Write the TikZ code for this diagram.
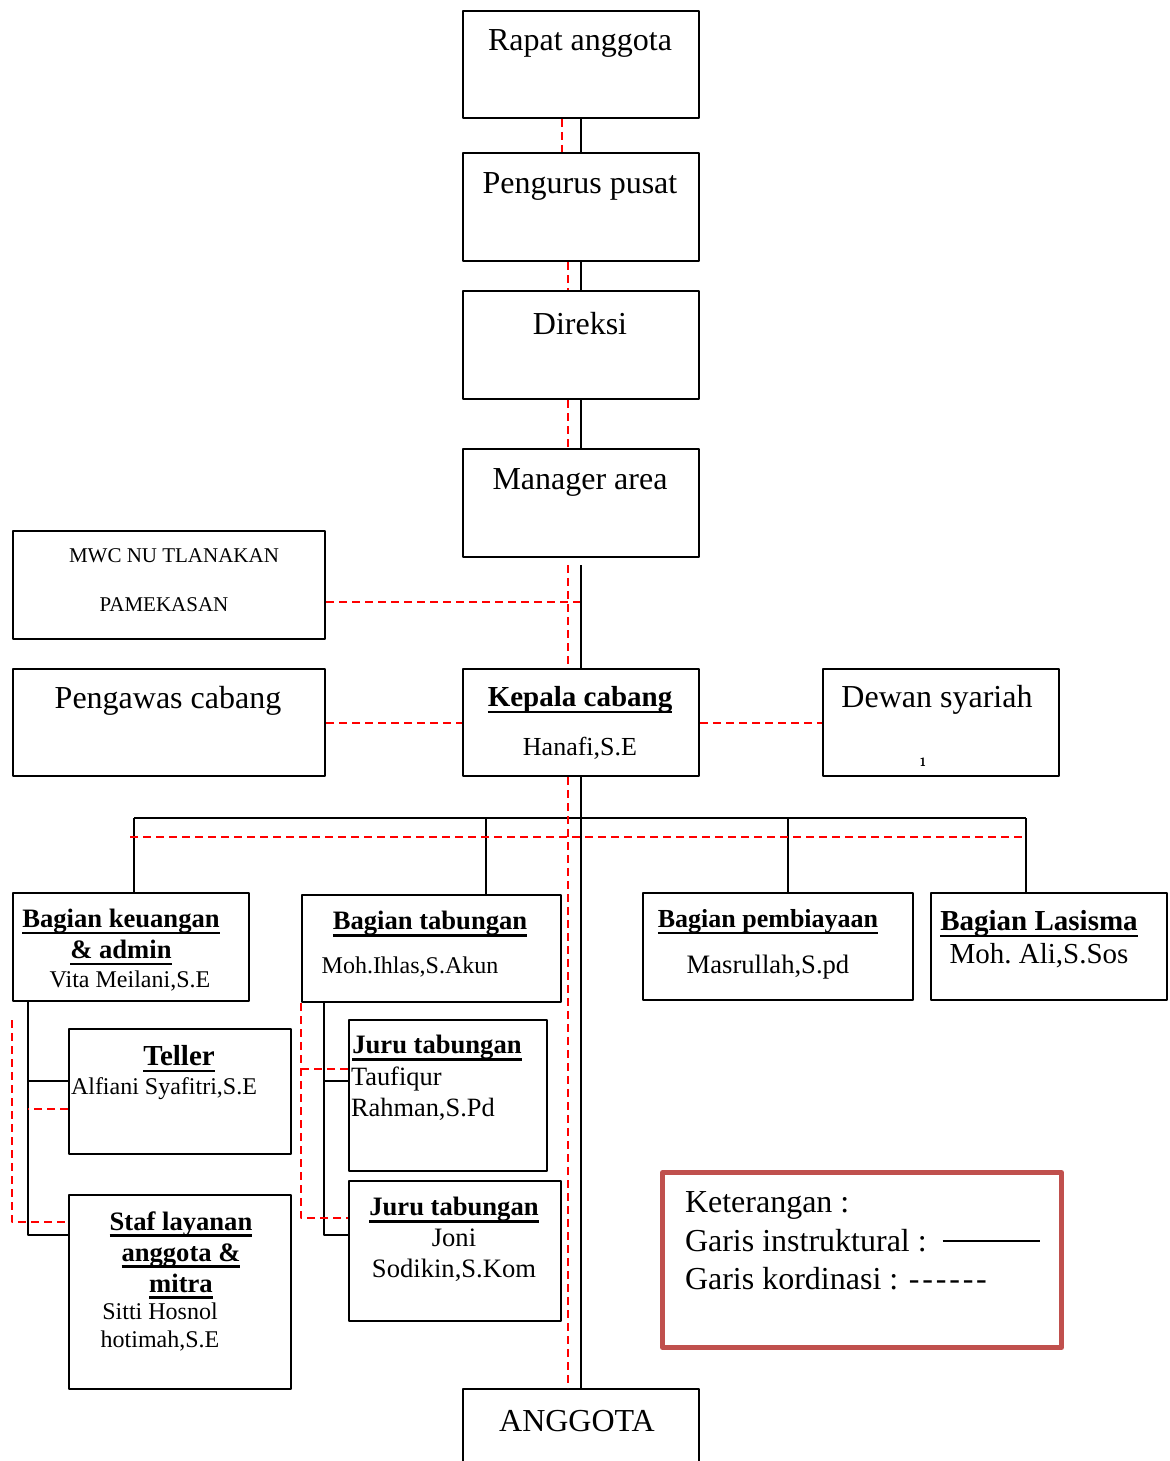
\documentclass[tikz,border=0pt]{standalone}
\usepackage{fontspec}
\setmainfont{Liberation Serif}
\newcommand{\garisbawah}[1]{\setbox0\hbox{#1}\rlap{\vrule width \wd0 height -2.2pt depth 3.3pt}\box0}
\definecolor{merahbata}{HTML}{C0504D}
\begin{document}
\begin{tikzpicture}[x=0.5pt, y=-0.5pt, line width=1pt, line join=round,
	kotak/.style 2 args={draw, anchor=north west, inner sep=0pt, minimum width=#1*0.5pt, minimum height=#2*0.5pt},
	koord/.style={draw=red, dash pattern=on 4pt off 2.5pt},
	teks/.style={inner sep=0pt, yshift=-1.5pt, align=center, font=\fontsize{#1}{15.5}\selectfont}, teks/.default=16,
	judul/.style={inner sep=0pt, yshift=-1.5pt, align=center, font=\fontsize{#1}{15.5}\selectfont\bfseries}, judul/.default=13.3]
	\useasboundingbox (0,0) rectangle (1170,1461);
	% Kotak-kotak struktur
	\node[kotak={236}{107}] (rapat) at (462,10) {};
	\node[kotak={236}{108}] (pengurus) at (462,152) {};
	\node[kotak={236}{108}] (direksi) at (462,290) {};
	\node[kotak={236}{108}] (manager) at (462,448) {};
	\node[kotak={312}{108}] (mwc) at (12,530) {};
	\node[kotak={312}{107}] (pengawas) at (12,668) {};
	\node[kotak={236}{107}] (kepala) at (462,668) {};
	\node[kotak={236}{107}] (dewan) at (822,668) {};
	\node[kotak={236}{108}] (keuangan) at (12,892) {};
	\node[kotak={259}{107}] (tabungan) at (301,894) {};
	\node[kotak={270}{107}] (pembiayaan) at (642,892) {};
	\node[kotak={236}{107}] (lasisma) at (930,892) {};
	\node[kotak={222}{125}] (teller) at (68,1028) {};
	\node[kotak={222}{194}] (staf) at (68,1194) {};
	\node[kotak={198}{151}] (juru1) at (348,1019) {};
	\node[kotak={212}{140}] (juru2) at (348,1180) {};
	\node[kotak={236}{90}] (anggota) at (462,1388) {};
	% Tulisan di dalam kotak
	\node[teks] (rapat-t) at (580,40) {Rapat anggota};
	\node[teks] (pengurus-t) at (580,183) {Pengurus pusat};
	\node[teks] (direksi-t) at (580,321) {Direksi};
	\node[teks] (manager-t) at (580,479) {Manager area};
	\node[teks=10.5] (mwc-a) at (174,553) {MWC NU TLANAKAN};
	\node[teks=10.5] (mwc-b) at (164,602) {PAMEKASAN};
	\node[teks] (pengawas-t) at (168,698) {Pengawas cabang};
	\node[judul=14.5] (kepala-a) at (580,697) {\garisbawah{Kepala cabang}};
	\node[teks=13] (kepala-b) at (580,745) {Hanafi,S.E};
	\node[teks] (dewan-a) at (937,697) {Dewan syariah};
	\node[inner sep=0pt, font=\fontsize{6}{7}\selectfont\sffamily\bfseries] (dewan-b) at (923,762) {1};
	\node[judul] (keuangan-a) at (121,934) {\garisbawah{Bagian keuangan}\\\garisbawah{\& admin}};
	\node[teks=12] (keuangan-b) at (130,978) {Vita Meilani,S.E};
	\node[judul] (tabungan-a) at (430,921) {\garisbawah{Bagian tabungan}};
	\node[teks=12] (tabungan-b) at (410,964) {Moh.Ihlas,S.Akun};
	\node[judul=13] (pembiayaan-a) at (768,919) {\garisbawah{Bagian pembiayaan}};
	\node[teks=13.3] (pembiayaan-b) at (768,964) {Masrullah,S.pd};
	\node[judul=14.5] (lasisma-a) at (1039,921) {\garisbawah{Bagian Lasisma}};
	\node[teks=14.5] (lasisma-b) at (1039,953) {Moh.\ Ali,S.Sos};
	\node[judul=14.5] (teller-a) at (179,1056) {\garisbawah{Teller}};
	\node[teks=12, anchor=west] (teller-b) at (70,1086) {Alfiani Syafitri,S.E};
	\node[judul] (staf-a) at (181,1252) {\garisbawah{Staf layanan}\\\garisbawah{anggota \&}\\\garisbawah{mitra}};
	\node[teks=12] (staf-b) at (160,1324) {Sitti Hosnol\\[-1.5pt]hotimah,S.E};
	\node[judul] (juru1-a) at (437,1045) {\garisbawah{Juru tabungan}};
	\node[teks=13.2, anchor=west, align=left] (juru1-b) at (350,1091) {Taufiqur\\Rahman,S.Pd};
	\node[judul] (juru2-a) at (454,1207) {\garisbawah{Juru tabungan}};
	\node[teks=13.3] (juru2-b) at (454,1252) {Joni\\Sodikin,S.Kom};
	\node[teks] (anggota-t) at (577,1418) {ANGGOTA};
	% Garis instruktural
	\draw (rapat) -- (pengurus);
	\draw (pengurus) -- (direksi);
	\draw (direksi) -- (manager);
	\draw ([yshift=-3.5pt]manager.south) -- (kepala.north);
	\draw (kepala) -- (anggota);
	\coordinate (c1) at (134,818);
	\coordinate (c2) at (486,818);
	\coordinate (c3) at (788,818);
	\coordinate (c4) at (1026,818);
	\draw (c1) -- (c4);
	\draw (c1) -- (c1 |- keuangan.north);
	\draw (c2) -- (c2 |- tabungan.north);
	\draw (c3) -- (c3 |- pembiayaan.north);
	\draw (c4) -- (c4 |- lasisma.north);
	\draw ([xshift=8pt]keuangan.south west) |- ([yshift=28.5pt]staf.west);
	\draw ([yshift=5.25pt]teller.west) -- ++(-40,0);
	\draw ([xshift=11.5pt]tabungan.south west) |- ([yshift=8pt]juru2.west);
	\draw ([yshift=7.25pt]juru1.west) -- ++(-24,0);
	% Garis kordinasi
	\draw[koord] ([xshift=-9.5pt]rapat.south) -- ([xshift=-9.5pt]pengurus.north);
	\draw[koord] ([xshift=-6.5pt]pengurus.south) -- ([xshift=-6.5pt]direksi.north);
	\draw[koord] ([xshift=-6.5pt]direksi.south) -- ([xshift=-6.5pt]manager.north);
	\draw[koord] ([xshift=-6.5pt,yshift=-3.5pt]manager.south) -- ([xshift=-6.5pt]kepala.north);
	\draw[koord] ([xshift=-6.5pt]kepala.south) -- ([xshift=-6.5pt]anggota.north);
	\coordinate (mwc-ujung) at (580,602);
	\draw[koord] (mwc.east |- mwc-ujung) -- (mwc-ujung);
	\draw[koord] (pengawas) -- (kepala);
	\draw[koord] (kepala) -- (dewan);
	\coordinate (k1) at (130,837);
	\coordinate (k2) at (1026,837);
	\draw[koord] (k1) -- (k2);
	\draw[koord] ([yshift=-9pt]keuangan.south west) |- ([yshift=35pt]staf.west);
	\draw[koord] ([yshift=-8.75pt]teller.west) -- ++(-40,0);
	\draw[koord] (tabungan.south west) |- ([yshift=16.5pt]juru2.west);
	\draw[koord] ([yshift=13.25pt]juru1.west) -- ++(-47,0);
	% Keterangan
	\node[kotak={399}{175}, draw=merahbata, line width=2.5pt] (ket) at (660,1170) {};
	\node[teks, anchor=west] (ket-a) at (684,1202) {Keterangan :};
	\node[teks, anchor=west] (ket-b) at (684,1238) {Garis instruktural :};
	\node[teks, anchor=west] (ket-c) at (684,1276) {Garis kordinasi : -\kern1.4pt-\kern1.4pt-\kern1.4pt-\kern1.4pt-\kern1.4pt-};
	\draw ([xshift=7.5pt]ket-b.east) -- ++(97,0);
\end{tikzpicture}
\end{document}
